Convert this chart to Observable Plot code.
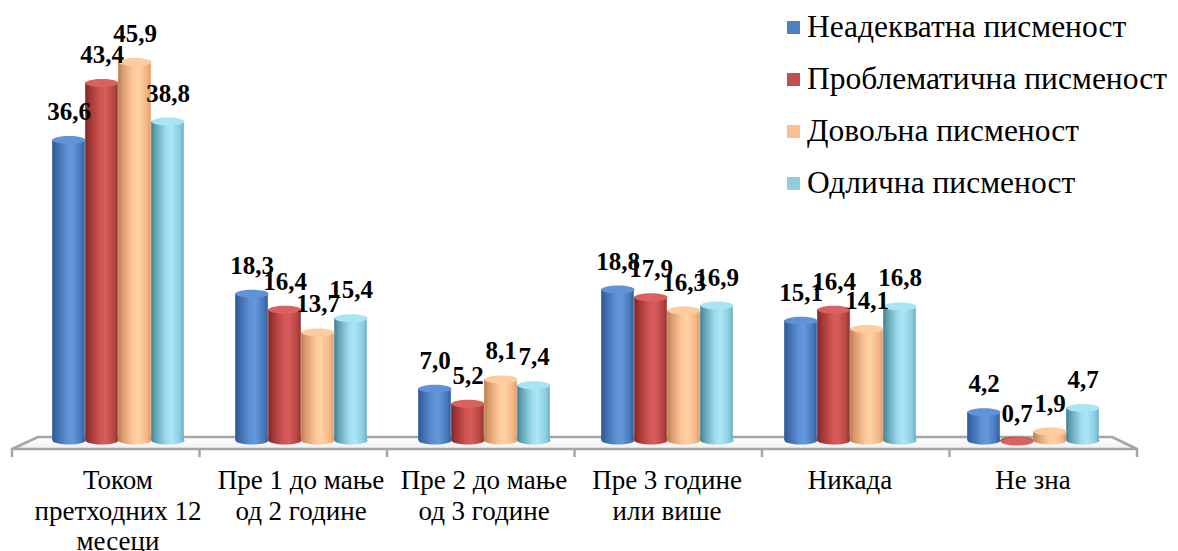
<!DOCTYPE html>
<html><head><meta charset="utf-8">
<script src="https://cdn.jsdelivr.net/npm/d3@7"></script>
<script src="https://cdn.jsdelivr.net/npm/@observablehq/plot@0.6"></script>
<style>
body{margin:0;background:#fff;}
#wrap{position:relative;width:1178px;height:551px;overflow:hidden;}
#legend{position:absolute;left:787px;top:1px;font-family:"Liberation Serif","Tinos","Times New Roman","Nimbus Roman","DejaVu Serif",serif;font-size:31.5px;color:#000;}
.row{display:flex;align-items:center;height:52px;white-space:nowrap;}
.sw{width:13px;height:13px;margin-right:7px;flex:none;}
svg text{font-family:"Liberation Serif","Tinos","Times New Roman","Nimbus Roman","DejaVu Serif",serif;}
</style></head><body><div id="wrap"><div id="chart"></div><div id="legend"></div></div>
<script>
const categories = ["Током претходних 12 месеци", "Пре 1 до мање од 2 године", "Пре 2 до мање од 3 године", "Пре 3 године или више", "Никада", "Не зна"];
const tickLabels = ["Током\nпретходних 12\nмесеци", "Пре 1 до мање\nод 2 године", "Пре 2 до мање\nод 3 године", "Пре 3 године\nили више", "Никада", "Не зна"];
const series = ["Неадекватна писменост", "Проблематична писменост", "Довољна писменост", "Одлична писменост"];
const neadekvatna = [36.6, 18.3, 7.0, 18.8, 15.1, 4.2];
const problematicna = [43.4, 16.4, 5.2, 17.9, 16.4, 0.7];
const dovoljna = [45.9, 13.7, 8.1, 16.3, 14.1, 1.9];
const odlicna = [38.8, 15.4, 7.4, 16.9, 16.8, 4.7];
const legendColors = ["#4f81bd", "#c0504d", "#fac090", "#93cddd"];

const seriesValues = [neadekvatna, problematicna, dovoljna, odlicna];
const rows = [];
seriesValues.forEach((vals, si) => vals.forEach((v, ci) => rows.push({cat: categories[ci], series: series[si], si, value: v})));

const bodyStops = [
  [[0,"#2c5791"],[0.12,"#3b68a8"],[0.45,"#5e92d6"],[0.62,"#6498da"],[0.88,"#4677bb"],[1,"#335e9a"]],
  [[0,"#7e2422"],[0.12,"#9c3432"],[0.45,"#d05553"],[0.62,"#d65d5b"],[0.88,"#b84542"],[1,"#963230"]],
  [[0,"#b77b4c"],[0.12,"#d9996a"],[0.45,"#fdc898"],[0.62,"#ffd2a4"],[0.88,"#f4b682"],[1,"#dc9d6b"]],
  [[0,"#3f7f90"],[0.12,"#5ea0b2"],[0.45,"#9ddced"],[0.62,"#aae6f6"],[0.88,"#8bcde0"],[1,"#6cafc3"]]
];
const topColors = ["#5f92d6", "#d9625f", "#fdcb9d", "#aae4f3"];

const font = '"Liberation Serif","Tinos","Times New Roman","Nimbus Roman","DejaVu Serif",serif';
const rx = 16.6, ry = 4, k = 0.5523;
const ellipse = {draw(ctx) {
  ctx.moveTo(rx, 0);
  ctx.bezierCurveTo(rx, ry*k, rx*k, ry, 0, ry);
  ctx.bezierCurveTo(-rx*k, ry, -rx, ry*k, -rx, 0);
  ctx.bezierCurveTo(-rx, -ry*k, -rx*k, -ry, 0, -ry);
  ctx.bezierCurveTo(rx*k, -ry, rx, -ry*k, rx, 0);
  ctx.closePath();
}};
const fmt = v => d3.format(".1f")(v).replace(".", ",");

const chart = Plot.plot({
  width: 1178, height: 551,
  marginLeft: 24, marginRight: 53, marginTop: 0, marginBottom: 104,
  style: {fontFamily: font, background: "transparent", overflow: "visible"},
  fx: {domain: categories, padding: 0, axis: null},
  x: {domain: series, paddingInner: 0, paddingOuter: 0.74, axis: null},
  y: {domain: [0, 447/8.4], axis: null},
  color: {type: "identity"},
  marks: [
    Plot.dot(rows, {fx: "cat", x: "series", y: () => 0, dy: -7, symbol: ellipse, fill: d => `url(#body${d.si})`, stroke: "none"}),
    Plot.rectY(rows, {fx: "cat", x: "series", y1: () => 0, y2: "value", insetBottom: 7, insetLeft: 0.2, insetRight: 0.2, fill: d => `url(#body${d.si})`}),
    Plot.dot(rows, {fx: "cat", x: "series", y: "value", symbol: ellipse, fill: d => topColors[d.si], stroke: "none"}),
    Plot.text(rows, {fx: "cat", x: "series", y: "value", dy: -28, text: d => fmt(d.value), fontSize: 25, fontWeight: "bold", fill: "#000", fontFamily: font}),
    Plot.text(categories, {fx: d => d, text: (d, i) => tickLabels[i], frameAnchor: "bottom", lineAnchor: "top", dy: 20, fontSize: 27, lineHeight: 1.13, fill: "#000", fontFamily: font})
  ]
});
document.getElementById("chart").appendChild(chart);

// gradients + floor decoration
const svg = d3.select(chart);
const defs = svg.insert("defs", ":first-child");
bodyStops.forEach((stops, i) => {
  const g = defs.append("linearGradient").attr("id", `body${i}`).attr("x1", 0).attr("x2", 1).attr("y1", 0).attr("y2", 0);
  stops.forEach(([o, c]) => g.append("stop").attr("offset", o).attr("stop-color", c));
});
const fg = defs.append("linearGradient").attr("id", "floorg").attr("x1", 0).attr("x2", 0).attr("y1", 0).attr("y2", 1);
fg.append("stop").attr("offset", 0).attr("stop-color", "#ffffff");
fg.append("stop").attr("offset", 1).attr("stop-color", "#f0f0f0");

const floor = svg.insert("g", ":scope > g");
floor.append("polygon").attr("points", "12,449 1137,449 1112,437 38,437")
  .attr("fill", "url(#floorg)").attr("stroke", "#a6a6a6").attr("stroke-width", 2.5).attr("stroke-linejoin", "round");
for (let i = 0; i <= 6; i++) {
  const x = 12 + i * 187.5;
  floor.append("line").attr("x1", x).attr("x2", x).attr("y1", 449).attr("y2", 457).attr("stroke", "#a6a6a6").attr("stroke-width", 2.5);
}

// legend
const legend = d3.select("#legend");
series.forEach((s, i) => {
  const r = legend.append("div").attr("class", "row");
  r.append("div").attr("class", "sw").style("background", legendColors[i]);
  r.append("span").text(s);
});
</script>
</body></html>
